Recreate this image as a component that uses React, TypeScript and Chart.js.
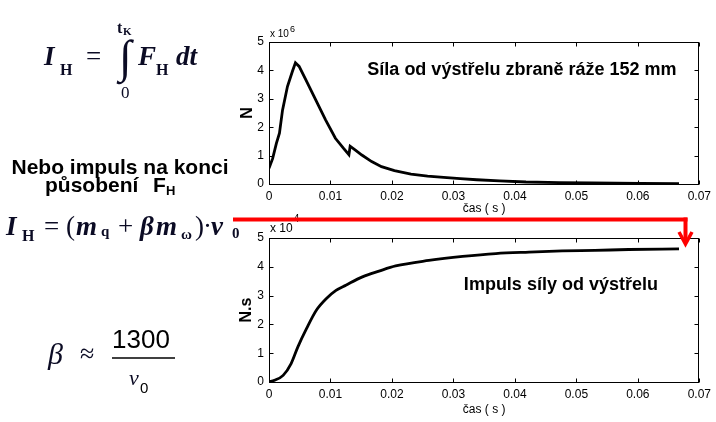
import React, { useEffect, useRef } from "react";
import { Chart, registerables } from "chart.js";
Chart.register(...registerables);

// Force of the shot (x 10^6 N)
const forceTime = [0, 0.0006, 0.0012, 0.0017, 0.0022, 0.003, 0.0038, 0.0043, 0.0049, 0.006, 0.0076, 0.0092, 0.0108, 0.0121, 0.013, 0.0132, 0.014, 0.0151, 0.0167, 0.0183, 0.0204, 0.0231, 0.0258, 0.0284, 0.0311, 0.0338, 0.0375, 0.0418, 0.0472, 0.0525, 0.0605, 0.0667];
const forceValues = [0.55, 0.9, 1.43, 1.79, 2.6, 3.43, 3.96, 4.27, 4.14, 3.67, 2.96, 2.26, 1.61, 1.26, 1.03, 1.33, 1.2, 1.02, 0.79, 0.61, 0.47, 0.35, 0.28, 0.235, 0.19, 0.15, 0.11, 0.07, 0.05, 0.035, 0.02, 0.01];

// Impulse of the shot (x 10^4 N.s)
const impulseTime = [0, 0.0009, 0.0023, 0.0036, 0.0047, 0.0061, 0.0077, 0.0093, 0.0109, 0.0125, 0.0152, 0.0179, 0.0206, 0.026, 0.0315, 0.0369, 0.0423, 0.0477, 0.053, 0.0585, 0.0667];
const impulseValues = [0, 0.06, 0.23, 0.64, 1.22, 1.85, 2.49, 2.89, 3.18, 3.36, 3.65, 3.85, 4.03, 4.22, 4.36, 4.46, 4.51, 4.55, 4.57, 4.6, 4.62];

const xTicks = [0, 0.01, 0.02, 0.03, 0.04, 0.05, 0.06, 0.07];
const xTickLabels = ["0", "0.01", "0.02", "0.03", "0.04", "0.05", "0.06", "0.07"];
const yTicks = [0, 1, 2, 3, 4, 5];
const yTickLabels = ["0", "1", "2", "3", "4", "5"];

const xTitle = "čas ( s )";
const topYTitle = "N";
const bottomYTitle = "N.s";
const topNote = "Síla od výstřelu zbraně ráže 152 mm";
const bottomNote = "Impuls síly od výstřelu";

const SANS = "'Liberation Sans', Arial, sans-serif";
const SERIF = "'Liberation Serif', 'Times New Roman', serif";

type Deco = {
  exp: string;
  expSize: number;
  expDy: number;
  supSize: number;
  supDy: number;
  note: string;
  noteX: number;
  noteY: number;
};

function boxPlugin(d: Deco) {
  return {
    id: "matlabBox",
    afterDraw(chart: any) {
      const { ctx, chartArea: a, scales } = chart;
      const xs = scales.x;
      const ys = scales.y;
      ctx.save();
      ctx.strokeStyle = "#000";
      ctx.lineWidth = 1;
      const L = Math.round(a.left) + 0.5;
      const R = Math.round(a.right) - 0.5;
      const T = Math.round(a.top) + 0.5;
      const B = Math.round(a.bottom) + 0.5;
      ctx.strokeRect(L, T, R - L, B - T);
      const tl = 4;
      ctx.beginPath();
      xs.ticks.forEach((t: any) => {
        const px = Math.round(xs.getPixelForValue(t.value)) + 0.5;
        ctx.moveTo(px, B);
        ctx.lineTo(px, B - tl);
        ctx.moveTo(px, T);
        ctx.lineTo(px, T + tl);
      });
      ys.ticks.forEach((t: any) => {
        const py = Math.round(ys.getPixelForValue(t.value)) + 0.5;
        ctx.moveTo(L, py);
        ctx.lineTo(L + tl, py);
        ctx.moveTo(R, py);
        ctx.lineTo(R - tl, py);
      });
      ctx.stroke();
      // exponent label
      ctx.fillStyle = "#000";
      ctx.textBaseline = "alphabetic";
      ctx.textAlign = "left";
      ctx.font = `${d.expSize}px ${SANS}`;
      const ex = Math.round(a.left) + 1;
      ctx.fillText("x 10", ex, a.top + d.expDy);
      const w = ctx.measureText("x 10").width;
      ctx.font = `${d.supSize}px ${SANS}`;
      ctx.fillText(d.exp, ex + w + 1, a.top + d.supDy);
      // note
      ctx.font = `bold 18px ${SANS}`;
      ctx.textBaseline = "middle";
      ctx.fillText(d.note, xs.getPixelForValue(d.noteX), ys.getPixelForValue(d.noteY));
      ctx.restore();
    },
  };
}

function makeConfig(
  times: number[],
  values: number[],
  yTitle: string,
  padTop: number,
  xAxisH: number,
  xTitlePad: number,
  yTitlePad: number,
  smooth: boolean,
  deco: Deco
): any {
  return {
    type: "line",
    data: {
      datasets: [
        {
          data: times.map((t, i) => ({ x: t, y: values[i] })),
          borderColor: "#000",
          borderWidth: 2.8,
          pointRadius: 0,
          fill: false,
          tension: smooth ? 0.4 : 0,
          cubicInterpolationMode: smooth ? "monotone" : "default",
        },
      ],
    },
    options: {
      animation: false,
      responsive: false,
      maintainAspectRatio: false,
      layout: { padding: { top: padTop, right: 16, left: 0, bottom: 0 } },
      plugins: { legend: { display: false }, tooltip: { enabled: false } },
      scales: {
        x: {
          type: "linear",
          min: 0,
          max: 0.07,
          afterBuildTicks: (s: any) => {
            s.ticks = xTicks.map((v) => ({ value: v }));
          },
          afterFit: (s: any) => {
            s.height = xAxisH;
          },
          grid: { display: false, drawTicks: false },
          border: { display: false },
          ticks: {
            color: "#000",
            font: { family: SANS, size: 12 },
            padding: 5,
            maxRotation: 0,
            autoSkip: false,
            callback: (_v: any, i: number) => xTickLabels[i],
          },
          title: {
            display: true,
            text: xTitle,
            color: "#000",
            font: { family: SANS, size: 12 },
            padding: { top: 0, bottom: xTitlePad },
          },
        },
        y: {
          type: "linear",
          min: 0,
          max: 5,
          afterBuildTicks: (s: any) => {
            s.ticks = yTicks.map((v) => ({ value: v }));
          },
          afterFit: (s: any) => {
            s.width = 39;
          },
          grid: { display: false, drawTicks: false },
          border: { display: false },
          ticks: {
            color: "#000",
            font: { family: SANS, size: 12 },
            padding: 5,
            callback: (_v: any, i: number) => yTickLabels[i],
          },
          title: {
            display: true,
            text: yTitle,
            color: "#000",
            font: { family: SANS, size: 16, weight: "bold" },
            padding: { top: yTitlePad, bottom: 0 },
          },
        },
      },
    },
    plugins: [boxPlugin(deco)],
  };
}

export default function App() {
  const topRef = useRef<HTMLCanvasElement>(null);
  const botRef = useRef<HTMLCanvasElement>(null);

  useEffect(() => {
    const c1 = new Chart(
      topRef.current as HTMLCanvasElement,
      makeConfig(forceTime, forceValues, topYTitle, 42, 38, 6, 8, false, {
        exp: "6",
        expSize: 10,
        expDy: -5,
        supSize: 9,
        supDy: -10,
        note: topNote,
        noteX: 0.016,
        noteY: 4.0,
      })
    );
    const c2 = new Chart(
      botRef.current as HTMLCanvasElement,
      makeConfig(impulseTime, impulseValues, bottomYTitle, 32, 40, 5, 7, true, {
        exp: "4",
        expSize: 12,
        expDy: -6,
        supSize: 10,
        supDy: -16,
        note: bottomNote,
        noteX: 0.0317,
        noteY: 3.36,
      })
    );
    return () => {
      c1.destroy();
      c2.destroy();
    };
  }, []);

  const ink = "#0b0b24";
  return (
    <div style={{ position: "absolute", left: 0, top: 0, width: 716, height: 422, background: "#fff", overflow: "hidden" }}>
      <canvas ref={topRef} width={486} height={222} style={{ position: "absolute", left: 230, top: 0, width: 486, height: 222 }} />
      <canvas ref={botRef} width={486} height={216} style={{ position: "absolute", left: 230, top: 206, width: 486, height: 216 }} />
      <svg width={716} height={422} style={{ position: "absolute", left: 0, top: 0, pointerEvents: "none" }}>
        {/* Formula 1 */}
        <g fill={ink} fontFamily={SERIF}>
          <text x={44} y={65} fontSize={27} fontWeight="bold" fontStyle="italic">I</text>
          <text x={60} y={75} fontSize={16} fontWeight="bold">H</text>
          <text x={86} y={65} fontSize={27}>=</text>
          <text x={119} y={72} fontSize={46}>∫</text>
          <text x={117} y={33} fontSize={16} fontWeight="bold">t</text>
          <text x={123} y={35} fontSize={11} fontWeight="bold">K</text>
          <text x={121} y={98} fontSize={17}>0</text>
          <text x={138} y={65} fontSize={27} fontWeight="bold" fontStyle="italic">F</text>
          <text x={156} y={75} fontSize={16} fontWeight="bold">H</text>
          <text x={176} y={65} fontSize={27} fontWeight="bold" fontStyle="italic">dt</text>
        </g>
        {/* Text */}
        <g fill="#000" fontFamily={SANS} fontWeight="bold" fontSize={21}>
          <text x={120} y={174} textAnchor="middle">Nebo impuls na konci</text>
          <text x={45} y={192}>působení</text>
          <text x={153} y={192}>F</text>
          <text x={166} y={195} fontSize={13}>H</text>
        </g>
        {/* Formula 2 */}
        <g fill={ink} fontFamily={SERIF}>
          <text x={6} y={235} fontSize={27} fontWeight="bold" fontStyle="italic">I</text>
          <text x={22} y={241} fontSize={16} fontWeight="bold">H</text>
          <text x={44} y={235} fontSize={27}>=</text>
          <text x={66} y={235} fontSize={27}>(</text>
          <text x={76} y={235} fontSize={27} fontWeight="bold" fontStyle="italic">m</text>
          <text x={101} y={236} fontSize={15} fontWeight="bold">q</text>
          <text x={118} y={235} fontSize={27}>+</text>
          <text x={140} y={235} fontSize={27} fontWeight="bold" fontStyle="italic">β</text>
          <text x={156} y={235} fontSize={27} fontWeight="bold" fontStyle="italic">m</text>
          <text x={181} y={239} fontSize={15} fontWeight="bold">ω</text>
          <text x={195} y={235} fontSize={27}>)</text>
          <text x={203} y={235} fontSize={27}>·</text>
          <text x={211} y={235} fontSize={27} fontWeight="bold" fontStyle="italic">v</text>
          <text x={232} y={238} fontSize={15} fontWeight="bold">0</text>
        </g>
        {/* Formula 3 */}
        <g fill={ink}>
          <text x={48} y={364} fontFamily={SERIF} fontSize={30} fontStyle="italic">β</text>
          <text x={80} y={362} fontFamily={SERIF} fontSize={26}>≈</text>
          <text x={112} y={348} fontFamily={SANS} fontSize={26} fill="#000">1300</text>
          <line x1={112} y1={358} x2={175} y2={358} stroke="#000" strokeWidth={1.5} />
          <text x={129} y={385} fontFamily={SERIF} fontSize={22} fontStyle="italic">v</text>
          <text x={140} y={393} fontFamily={SANS} fontSize={15} fill="#000">0</text>
        </g>
        {/* Red arrow */}
        <g stroke="#ff0000" fill="none">
          <line x1={233} y1={219.5} x2={687.5} y2={219.5} strokeWidth={4} />
          <line x1={685.5} y1={217.5} x2={685.5} y2={243} strokeWidth={4} />
          <polyline points="679,232 685.5,244 692,232" strokeWidth={3.5} />
        </g>
      </svg>
    </div>
  );
}
